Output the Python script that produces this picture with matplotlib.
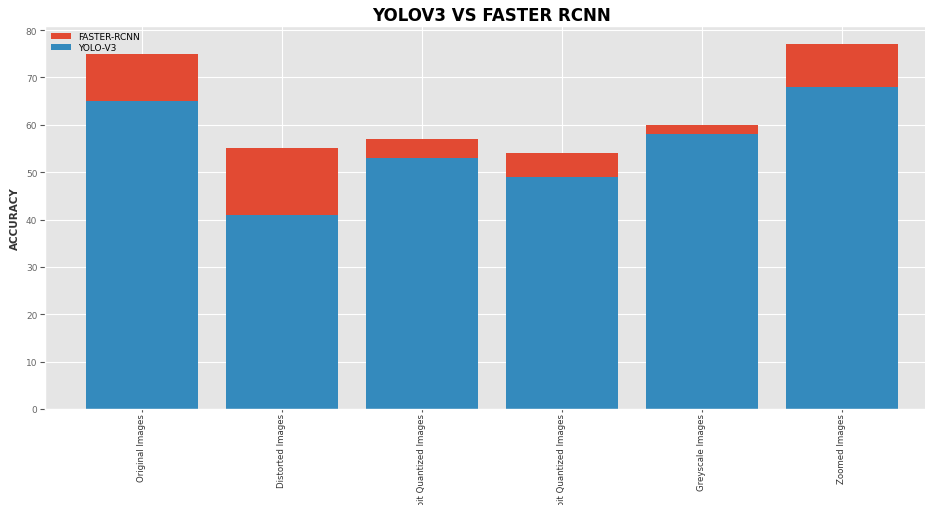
import matplotlib
matplotlib.use("Agg")
import matplotlib.pyplot as plt
import numpy as np

plt.style.use("ggplot")

categories = ["Original Images", "Distorted Images", "8-bit Quantized Images",
              "4-bit Quantized Images", "Greyscale Images", "Zoomed Images"]
faster_rcnn = [75, 55, 57, 54, 60, 77]
yolo_v3 = [65, 41, 53, 49, 58, 68]

narrow = ["Liberation Sans Narrow", "DejaVu Sans"]

fig = plt.figure(figsize=(9.25, 5.06), dpi=100)
ax = fig.add_axes([45 / 925, 1 - 410 / 506, (938.6 - 45) / 925, (410 - 27) / 506])

x = np.arange(len(categories))
ax.bar(x, faster_rcnn, width=0.8, color="#E24A33", label="FASTER-RCNN")
ax.bar(x, yolo_v3, width=0.8, color="#348ABD", label="YOLO-V3")

ax.set_xticks(x)
ax.set_xticklabels(categories, rotation=90, fontsize=6.2, color="#333333", family=narrow)
ax.tick_params(axis="x", pad=0.5, length=2.5)
ax.tick_params(axis="y", labelsize=6.5, labelcolor="#666666", pad=2)
ax.set_ylabel("ACCURACY", fontsize=7.5, fontweight="bold", color="#333333",
              family=narrow, labelpad=4)
ax.set_title("YOLOV3 VS FASTER RCNN", fontsize=12, fontweight="bold", color="black", pad=4)

leg = ax.legend(loc="upper left", fontsize=6.5, frameon=False, labelspacing=0.2,
                borderaxespad=0.3, handlelength=2.2)

fig.savefig("out.png", dpi=100)
